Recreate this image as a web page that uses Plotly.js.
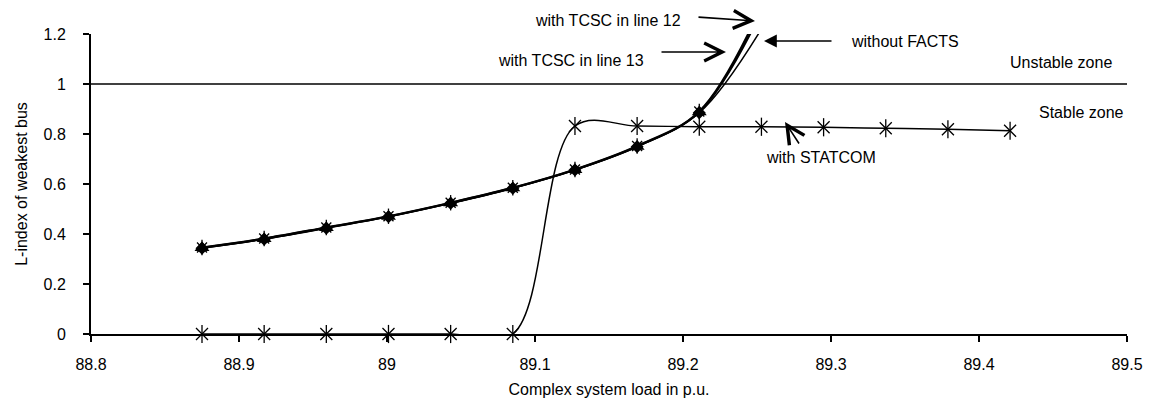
<!DOCTYPE html>
<html>
<head>
<meta charset="utf-8">
<script src="https://cdn.plot.ly/plotly-3.0.1.min.js"></script>
<style>html,body{margin:0;padding:0;background:#fff;}#chart{width:1160px;height:416px;}</style>
</head>
<body>
<div id="chart"></div>
<script>
// Complex system load (p.u.)
const load = [88.875, 88.917, 88.959, 89.001, 89.043, 89.085, 89.127, 89.169, 89.211, 89.253, 89.295, 89.337, 89.379, 89.421];
const loadBase = load.slice(0, 10);
// L-index of weakest bus
const withoutFacts = [0.343, 0.379, 0.423, 0.469, 0.523, 0.583, 0.656, 0.749, 0.885, 1.22];
const tcscLine12   = [0.345, 0.381, 0.425, 0.470, 0.524, 0.584, 0.657, 0.750, 0.888, 1.29];
const tcscLine13   = [0.346, 0.382, 0.426, 0.471, 0.525, 0.585, 0.658, 0.752, 0.890, 1.31];
const withStatcom  = [0, 0, 0, 0, 0, 0, 0.832, 0.832, 0.829, 0.829, 0.827, 0.823, 0.819, 0.813];
const stabilityLimit = 1;

const FONT = 'Liberation Sans, Arial, sans-serif';
const black = '#000';

const traces = [
  {x: loadBase, y: withoutFacts, name: 'without FACTS', mode: 'lines+markers',
   line: {color: black, width: 1.5, shape: 'spline'},
   marker: {symbol: 'diamond', size: 10, color: black}},
  {x: loadBase, y: tcscLine12, name: 'with TCSC in line 12', mode: 'lines+markers',
   line: {color: black, width: 2.2, shape: 'spline'},
   marker: {symbol: 'triangle-up', size: 13, color: black}},
  {x: loadBase, y: tcscLine13, name: 'with TCSC in line 13', mode: 'lines+markers',
   line: {color: black, width: 2.2, shape: 'spline'},
   marker: {symbol: 'x-thin-open', size: 10, color: black, line: {color: black, width: 1.3}}},
  {x: loadBase, y: tcscLine13, name: 'with TCSC in line 13 (v)', mode: 'markers', showlegend: false,
   marker: {symbol: 'line-ns-open', size: 11, color: black, line: {color: black, width: 1.3}}},
  {x: load, y: withStatcom, name: 'with STATCOM', mode: 'lines+markers', cliponaxis: false,
   line: {color: black, width: 1.5, shape: 'spline'},
   marker: {symbol: 'x-thin-open', size: 12, color: black, line: {color: black, width: 1.3}}},
  {x: load, y: withStatcom, name: 'with STATCOM (v)', mode: 'markers', cliponaxis: false, showlegend: false,
   marker: {symbol: 'line-ns-open', size: 13, color: black, line: {color: black, width: 1.3}}}
];

const tf = {family: FONT, size: 16, color: black};
// plot area in pixels: left 91, right 1127, top 34, bottom 334
const px = v => (v - 91) / 1036;
const py = v => (334 - v) / 300;
function txt(text, x, y) {
  return {text: text, x: px(x), y: py(y), xref: 'paper', yref: 'paper', showarrow: false, font: tf,
          xanchor: 'center', yanchor: 'middle'};
}
function arrow(x, y, ax, ay, head) {
  return {text: '', x: px(x), y: py(y), ax: px(ax), ay: py(ay), xref: 'paper', yref: 'paper', axref: 'paper', ayref: 'paper',
          showarrow: true, arrowhead: head, arrowsize: head === 2 ? 1.6 : 2.2, arrowwidth: 1.6, arrowcolor: black};
}

const layout = {
  width: 1160, height: 416,
  margin: {l: 91, r: 33, t: 34, b: 82},
  paper_bgcolor: '#fff', plot_bgcolor: '#fff',
  showlegend: false,
  font: tf,
  xaxis: {
    range: [88.8, 89.5], tick0: 88.8, dtick: 0.1,
    showgrid: false, zeroline: false,
    showline: true, linecolor: black, linewidth: 2,
    ticks: 'outside', ticklen: 6, tickwidth: 1.5, tickcolor: black,
    tickfont: tf, ticklabelstandoff: 9,
    title: {text: 'Complex system load in p.u.', font: tf, standoff: 12}
  },
  yaxis: {
    range: [0, 1.2], tick0: 0, dtick: 0.2,
    showgrid: false, zeroline: false,
    showline: true, linecolor: black, linewidth: 2,
    ticks: 'outside', ticklen: 6, tickwidth: 1.5, tickcolor: black,
    tickfont: tf, ticklabelstandoff: 14,
    title: {text: 'L-index of weakest bus', font: tf, standoff: 12}
  },
  shapes: [
    {type: 'line', xref: 'paper', yref: 'y', x0: 0, x1: 1, y0: stabilityLimit, y1: stabilityLimit,
     line: {color: black, width: 1.6}}
  ],
  annotations: [
    txt('with TCSC in line 12', 608, 20),
    txt('with TCSC in line 13', 571, 61),
    txt('without FACTS', 905, 42),
    txt('Unstable zone', 1061, 62),
    txt('Stable zone', 1081, 112),
    txt('with STATCOM', 821, 157),
    arrow(755, 21, 697, 17, 5),
    arrow(726, 52, 660, 52, 5),
    arrow(764, 41, 833, 41, 2),
    arrow(785, 122, 800, 145, 5)
  ]
};

Plotly.newPlot('chart', traces, layout, {displayModeBar: false, staticPlot: true});
</script>
</body>
</html>
